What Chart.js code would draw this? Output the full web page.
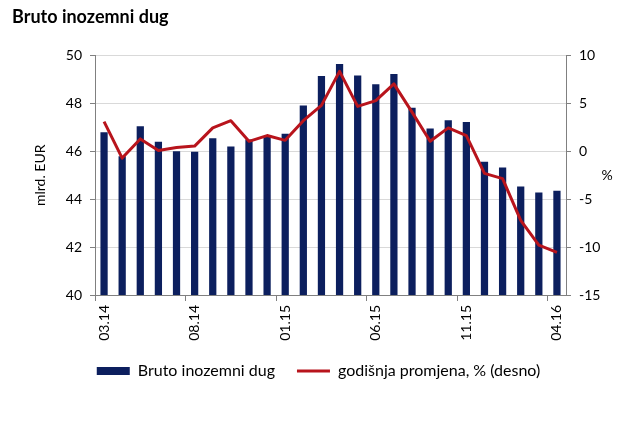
<!DOCTYPE html>
<html>
<head>
<meta charset="utf-8">
<script src="https://cdn.jsdelivr.net/npm/chart.js@4/dist/chart.umd.min.js"></script>
<style>
  html, body { margin: 0; background: #fff; }
  #wrap { position: relative; width: 625px; height: 421px; }
</style>
</head>
<body>
<div id="wrap"><canvas id="chart"></canvas></div>
<script>
const months = [
  '03.14', '04.14', '05.14', '06.14', '07.14', '08.14', '09.14', '10.14', '11.14', '12.14',
  '01.15', '02.15', '03.15', '04.15', '05.15', '06.15', '07.15', '08.15', '09.15', '10.15',
  '11.15', '12.15', '01.16', '02.16', '03.16', '04.16'
];
const shownMonths = ['03.14', '08.14', '01.15', '06.15', '11.15', '04.16'];

// mlrd. EUR
const grossDebt = [
  46.8, 45.8, 47.05, 46.4, 46.0, 45.98, 46.55, 46.2, 46.5, 46.63,
  46.74, 47.92, 49.15, 49.65, 49.17, 48.8, 49.23, 47.82, 46.95, 47.3,
  47.23, 45.57, 45.33, 44.53, 44.28, 44.35
];
// godisnja promjena, %
const yoyChange = [
  3.1, -0.7, 1.3, 0.1, 0.4, 0.55, 2.45, 3.2, 1.05, 1.65,
  1.15, 3.2, 4.8, 8.35, 4.7, 5.3, 7.05, 4.1, 1.05, 2.45,
  1.65, -2.3, -2.85, -7.2, -9.8, -10.55
];

const leftTicks = [40, 42, 44, 46, 48, 50];
const rightTicks = [-15, -10, -5, 0, 5, 10];

const BAR_COLOR = '#0c1f5e';
const LINE_COLOR = '#b8141c';
const GRID_COLOR = '#d9d9d9';
const AXIS_COLOR = '#808080';

Chart.defaults.font.family = 'Lato';
Chart.defaults.font.size = 14;
Chart.defaults.color = '#000';

// the "%" next to the right axis sits upright, so it is drawn here
const percentLabel = {
  id: 'percentLabel',
  afterDraw(chart) {
    const { ctx, chartArea } = chart;
    ctx.save();
    ctx.font = '14px Lato';
    ctx.fillStyle = '#000';
    ctx.textAlign = 'center';
    ctx.textBaseline = 'middle';
    ctx.fillText('%', 607, (chartArea.top + chartArea.bottom) / 2);
    ctx.restore();
  }
};

new Chart(document.getElementById('chart'), {
  data: {
    labels: months,
    datasets: [
      {
        type: 'bar',
        label: 'Bruto inozemni dug',
        data: grossDebt,
        backgroundColor: BAR_COLOR,
        borderWidth: 0,
        barPercentage: 0.4,
        categoryPercentage: 1,
        yAxisID: 'y',
        order: 1
      },
      {
        type: 'line',
        label: 'godišnja promjena, % (desno)',
        data: yoyChange,
        borderColor: LINE_COLOR,
        backgroundColor: LINE_COLOR,
        borderWidth: 3,
        pointRadius: 0,
        tension: 0,
        borderJoinStyle: 'round',
        yAxisID: 'y2',
        order: 0
      }
    ]
  },
  options: {
    responsive: true,
    maintainAspectRatio: false,
    animation: false,
    layout: { padding: { left: 12, right: 0, top: 0, bottom: 32 } },
    scales: {
      x: {
        offset: true,
        grid: {
          offset: true,
          drawOnChartArea: false,
          tickLength: 6,
          color: (c) => (c.index % 5 === 0 ? AXIS_COLOR : 'transparent')
        },
        border: { color: AXIS_COLOR },
        ticks: {
          autoSkip: false,
          minRotation: 90,
          maxRotation: 90,
          padding: 4,
          callback: (v, i) => (shownMonths.includes(months[i]) ? months[i] : '')
        },
        afterFit: (s) => { s.height = 46; }
      },
      y: {
        position: 'left',
        min: leftTicks[0],
        max: leftTicks[leftTicks.length - 1],
        ticks: { stepSize: 2, padding: 8 },
        grid: { color: GRID_COLOR, tickColor: AXIS_COLOR, tickLength: 5 },
        border: { color: AXIS_COLOR },
        title: { display: true, text: 'mlrd. EUR', padding: { top: 20, bottom: 0 } },
        afterFit: (s) => { s.width = 83; }
      },
      y2: {
        position: 'right',
        min: rightTicks[0],
        max: rightTicks[rightTicks.length - 1],
        ticks: { stepSize: 5, padding: 8 },
        grid: { drawOnChartArea: false, tickColor: AXIS_COLOR, tickLength: 5 },
        border: { color: AXIS_COLOR },
        afterFit: (s) => { s.width = 59; }
      }
    },
    plugins: {
      title: {
        display: true,
        text: 'Bruto inozemni dug',
        align: 'start',
        color: '#000',
        font: { family: 'Lato', size: 18, weight: 'bold' },
        padding: { top: 6, bottom: 28 }
      },
      legend: {
        position: 'bottom',
        labels: {
          usePointStyle: true,
          pointStyleWidth: 33,
          boxHeight: 8,
          padding: 22,
          color: '#000',
          font: { size: 16 },
          sort: (a, b) => a.datasetIndex - b.datasetIndex,
          generateLabels(chart) {
            const items = Chart.defaults.plugins.legend.labels.generateLabels(chart);
            items.forEach((it) => {
              it.pointStyle = chart.data.datasets[it.datasetIndex].type === 'line' ? 'line' : 'rect';
            });
            return items;
          }
        }
      },
      tooltip: { enabled: false }
    }
  },
  plugins: [percentLabel]
});
</script>
</body>
</html>
